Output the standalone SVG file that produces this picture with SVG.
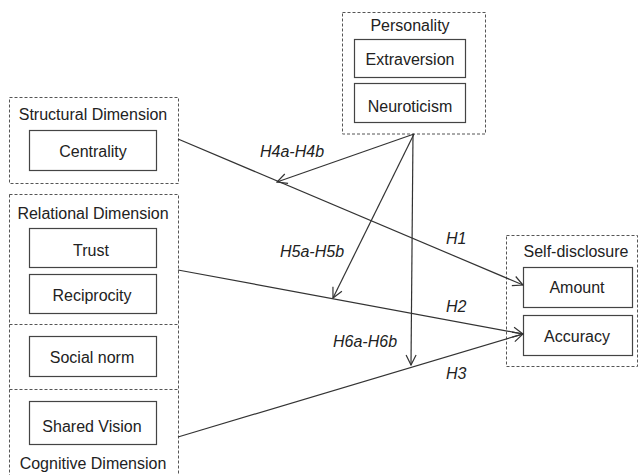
<svg xmlns="http://www.w3.org/2000/svg" width="641" height="475" viewBox="0 0 641 475">
<style>
.grp{fill:none;stroke:#555;stroke-width:1;stroke-dasharray:3 2}
.box{fill:#fff;stroke:#444;stroke-width:1.2}
.t{font-family:"Liberation Sans",Arial,sans-serif;font-size:16px;fill:#222;text-anchor:middle}
.h{font-family:"Liberation Sans",Arial,sans-serif;font-size:16px;font-style:italic;fill:#222}
.ln{fill:none;stroke:#333;stroke-width:1.2;marker-end:url(#arr)}
</style>
<defs>
<marker id="arr" viewBox="0 0 12 12" refX="11" refY="6" markerWidth="12" markerHeight="12" markerUnits="userSpaceOnUse" orient="auto">
<path d="M1,1 L11,6 L1,11" fill="none" stroke="#333" stroke-width="1.2"/>
</marker>
</defs>
<rect width="641" height="475" fill="#fff"/>
<g id="personality">
<rect class="grp" x="342.5" y="12.5" width="143" height="121.5"/>
<text class="t" x="410" y="31">Personality</text>
</g>
<g id="extraversion"><rect class="box" x="354.5" y="39.5" width="111" height="38"/><text class="t" x="410" y="65">Extraversion</text></g>
<g id="neuroticism"><rect class="box" x="354.5" y="83.5" width="111" height="39"/><text class="t" x="410" y="112">Neuroticism</text></g>
<g id="structural">
<rect class="grp" x="9.5" y="97.5" width="169" height="86"/>
<text class="t" x="93" y="120">Structural Dimension</text>
</g>
<g id="centrality"><rect class="box" x="29.5" y="130.5" width="127" height="40"/><text class="t" x="93" y="157">Centrality</text></g>
<g id="relational">
<rect class="grp" x="9.5" y="194.5" width="169" height="290"/>
<line class="grp" x1="9.5" y1="324.5" x2="178.5" y2="324.5"/>
<line class="grp" x1="9.5" y1="389.5" x2="178.5" y2="389.5"/>
<text class="t" x="93" y="219">Relational Dimension</text>
<text class="t" x="93" y="469">Cognitive Dimension</text>
</g>
<g id="trust"><rect class="box" x="29.5" y="228.5" width="127" height="39"/><text class="t" x="91" y="256">Trust</text></g>
<g id="reciprocity"><rect class="box" x="29.5" y="274.5" width="127" height="39"/><text class="t" x="92" y="301">Reciprocity</text></g>
<g id="socialnorm"><rect class="box" x="29.5" y="336.5" width="127" height="40"/><text class="t" x="92" y="363">Social norm</text></g>
<g id="sharedvision"><rect class="box" x="29.5" y="401.5" width="127" height="43"/><text class="t" x="92" y="432">Shared Vision</text></g>
<g id="selfdisclosure">
<rect class="grp" x="506.5" y="235.5" width="131" height="131"/>
<text class="t" x="576" y="257">Self-disclosure</text>
</g>
<g id="amount"><rect class="box" x="523.5" y="267.5" width="109" height="40"/><text class="t" x="577" y="293">Amount</text></g>
<g id="accuracy"><rect class="box" x="523.5" y="315.5" width="109" height="40"/><text class="t" x="577" y="342">Accuracy</text></g>
<g id="connectors">
<line class="ln" x1="178" y1="139" x2="523" y2="285"/>
<line class="ln" x1="178" y1="270" x2="523" y2="334"/>
<line class="ln" x1="178" y1="437" x2="523" y2="334"/>
<line class="ln" x1="414" y1="134" x2="277" y2="182"/>
<line class="ln" x1="414" y1="134" x2="333" y2="298"/>
<line class="ln" x1="413" y1="134" x2="411" y2="365"/>
</g>
<g id="labels">
<text class="h" x="260" y="157">H4a-H4b</text>
<text class="h" x="446" y="244">H1</text>
<text class="h" x="280" y="257">H5a-H5b</text>
<text class="h" x="446" y="312">H2</text>
<text class="h" x="333" y="347">H6a-H6b</text>
<text class="h" x="446" y="379">H3</text>
</g>
</svg>
